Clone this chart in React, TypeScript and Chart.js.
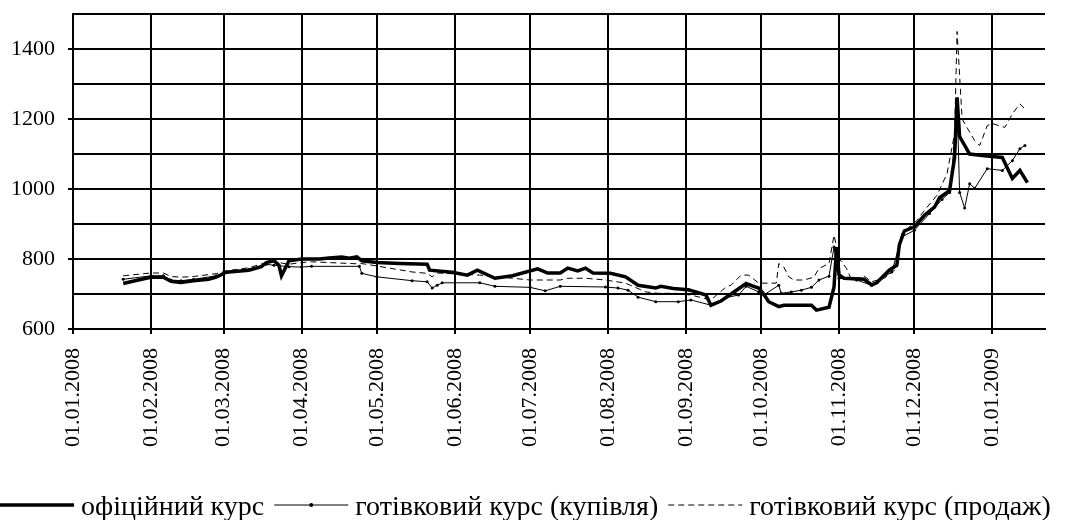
import { useEffect, useRef } from 'react';
import { Chart, registerables } from 'chart.js';

Chart.register(...registerables);

// ---- data ----
const monthTicks = [
  '01.01.2008', '01.02.2008', '01.03.2008', '01.04.2008', '01.05.2008', '01.06.2008',
  '01.07.2008', '01.08.2008', '01.09.2008', '01.10.2008', '01.11.2008', '01.12.2008', '01.01.2009',
];
const axisEnd = '22.01.2009';

const officialDates = [
  '21.01.2008', '27.01.2008', '01.02.2008', '06.02.2008', '09.02.2008', '13.02.2008', '18.02.2008', '24.02.2008', '27.02.2008',
  '02.03.2008', '11.03.2008', '16.03.2008', '18.03.2008', '21.03.2008', '23.03.2008', '24.03.2008', '27.03.2008',
  '01.04.2008', '08.04.2008', '12.04.2008', '17.04.2008', '20.04.2008', '23.04.2008', '25.04.2008',
  '01.05.2008', '10.05.2008', '21.05.2008', '22.05.2008', '31.05.2008',
  '06.06.2008', '10.06.2008', '17.06.2008', '24.06.2008',
  '04.07.2008', '08.07.2008', '13.07.2008', '16.07.2008', '20.07.2008', '23.07.2008', '26.07.2008',
  '02.08.2008', '08.08.2008', '13.08.2008', '20.08.2008', '22.08.2008', '27.08.2008',
  '02.09.2008', '06.09.2008', '09.09.2008', '11.09.2008', '15.09.2008', '19.09.2008', '25.09.2008', '28.09.2008', '30.09.2008',
  '02.10.2008', '04.10.2008', '08.10.2008', '10.10.2008', '21.10.2008', '23.10.2008', '28.10.2008', '30.10.2008', '31.10.2008',
  '01.11.2008', '03.11.2008', '11.11.2008', '14.11.2008', '16.11.2008', '21.11.2008', '24.11.2008', '25.11.2008', '27.11.2008',
  '01.12.2008', '05.12.2008', '09.12.2008', '11.12.2008', '15.12.2008', '17.12.2008', '18.12.2008', '19.12.2008', '23.12.2008', '29.12.2008',
  '05.01.2009', '09.01.2009', '12.01.2009', '15.01.2009',
];
const officialValues = [
  730, 740, 748, 748, 736, 733, 738, 742, 748,
  762, 768, 778, 790, 795, 782, 752, 795,
  800, 800, 803, 806, 802, 806, 795,
  790, 787, 785, 768, 762,
  754, 768, 745, 752,
  772, 760, 760, 774, 766, 774, 760,
  759, 749, 725, 717, 722, 716,
  712, 704, 697, 668, 680, 700, 730, 722, 717,
  700, 678, 664, 668, 668, 654, 662, 720, 834,
  754, 745, 742, 726, 732, 768, 782, 840, 880,
  892, 925, 948, 975, 995, 1090, 1262, 1150, 1100, 1095,
  1090, 1030, 1053, 1018,
];

const buyDates = [
  '21.01.2008', '01.02.2008', '06.02.2008', '09.02.2008', '13.02.2008', '18.02.2008', '27.02.2008',
  '02.03.2008', '11.03.2008', '18.03.2008', '21.03.2008', '27.03.2008',
  '01.04.2008', '05.04.2008', '24.04.2008', '25.04.2008',
  '01.05.2008', '15.05.2008', '21.05.2008', '23.05.2008', '25.05.2008', '27.05.2008',
  '11.06.2008', '17.06.2008', '01.07.2008', '07.07.2008', '13.07.2008', '31.07.2008',
  '05.08.2008', '09.08.2008', '13.08.2008', '20.08.2008', '29.08.2008',
  '03.09.2008', '11.09.2008', '17.09.2008', '22.09.2008', '25.09.2008', '30.09.2008',
  '02.10.2008', '08.10.2008', '09.10.2008', '13.10.2008', '17.10.2008', '21.10.2008', '24.10.2008', '28.10.2008', '30.10.2008', '31.10.2008',
  '01.11.2008', '08.11.2008', '14.11.2008', '22.11.2008', '26.11.2008',
  '01.12.2008', '07.12.2008', '12.12.2008', '15.12.2008', '16.12.2008', '18.12.2008', '19.12.2008', '21.12.2008', '23.12.2008', '25.12.2008', '30.12.2008',
  '05.01.2009', '09.01.2009', '12.01.2009', '14.01.2009',
];
const buyValues = [
  742, 752, 752, 740, 738, 742, 752,
  762, 770, 785, 782, 778,
  777, 779, 779, 759,
  749, 738, 735, 717, 725, 732,
  732, 722, 719, 709, 722, 720,
  717, 711, 691, 678, 678,
  683, 668, 690, 697, 722, 706,
  697, 725, 702, 706, 711, 719, 740, 751, 834, 787,
  745, 740, 725, 763, 863,
  882, 930, 970, 990, 1050, 1250, 990, 946, 1015, 1002, 1058,
  1053, 1081, 1115, 1124,
];

const sellDates = [
  '21.01.2008', '01.02.2008', '06.02.2008', '09.02.2008', '13.02.2008', '18.02.2008', '27.02.2008',
  '02.03.2008', '11.03.2008', '18.03.2008', '21.03.2008', '27.03.2008',
  '01.04.2008', '05.04.2008', '24.04.2008', '25.04.2008',
  '01.05.2008', '15.05.2008', '21.05.2008', '23.05.2008', '25.05.2008',
  '11.06.2008', '24.06.2008', '01.07.2008', '13.07.2008', '16.07.2008', '23.07.2008', '31.07.2008',
  '08.08.2008', '16.08.2008', '21.08.2008', '28.08.2008',
  '03.09.2008', '11.09.2008', '17.09.2008', '19.09.2008', '23.09.2008', '26.09.2008', '30.09.2008',
  '07.10.2008', '08.10.2008', '10.10.2008', '12.10.2008', '14.10.2008', '18.10.2008', '22.10.2008', '24.10.2008', '28.10.2008', '30.10.2008',
  '01.11.2008', '04.11.2008', '06.11.2008', '11.11.2008', '14.11.2008', '19.11.2008', '24.11.2008', '26.11.2008',
  '02.12.2008', '05.12.2008', '10.12.2008', '14.12.2008', '17.12.2008', '18.12.2008', '20.12.2008', '25.12.2008', '27.12.2008', '30.12.2008',
  '01.01.2009', '06.01.2009', '09.01.2009', '12.01.2009', '14.01.2009',
];
const sellValues = [
  752, 760, 760, 750, 748, 750, 758,
  766, 775, 790, 792, 785,
  790, 792, 786, 787,
  780, 763, 759, 749, 760,
  754, 745, 740, 740, 745, 745, 740,
  731, 706, 702, 702,
  697, 683, 720, 725, 754, 754, 731,
  731, 787, 777, 749, 740, 740, 748, 773, 787, 868,
  802, 773, 740, 751, 735, 745, 773, 873,
  910, 939, 982, 1044, 1158, 1450, 1200, 1138, 1124, 1181,
  1187, 1176, 1215, 1243, 1229,
];

const seriesLabels = [
  'офіційний курс',
  'готівковий курс (купівля)',
  'готівковий курс (продаж)',
];

// ---- helpers ----
const BASE = Date.UTC(2008, 0, 1);
function toDay(s: string): number {
  const [d, m, y] = s.split('.').map(Number);
  return Math.round((Date.UTC(y, m - 1, d) - BASE) / 86400000);
}
function toPoints(dates: string[], values: number[]) {
  return dates.map((d, i) => ({ x: toDay(d), y: values[i] }));
}

const FONT = '"Liberation Serif", "Times New Roman", serif';

const legendPlugin = {
  id: 'bottomLegend',
  afterDraw(chart: any) {
    const ctx = chart.ctx as CanvasRenderingContext2D;
    const lineY = 505;
    const textY = 515;
    const sample = 74;
    ctx.save();
    ctx.font = `28px ${FONT}`;
    ctx.textBaseline = 'alphabetic';
    ctx.textAlign = 'left';
    ctx.fillStyle = '#000';
    let x = 0;
    chart.data.datasets.forEach((ds: any) => {
      ctx.save();
      ctx.strokeStyle = '#000';
      ctx.lineWidth = ds.borderWidth;
      ctx.setLineDash(ds.borderDash || []);
      ctx.beginPath();
      ctx.moveTo(x, lineY);
      ctx.lineTo(x + sample, lineY);
      ctx.stroke();
      if (ds.pointRadius > 0) {
        ctx.setLineDash([]);
        ctx.beginPath();
        ctx.arc(x + sample / 2, lineY, ds.pointRadius + 0.5, 0, Math.PI * 2);
        ctx.fill();
      }
      ctx.restore();
      x += sample + 7;
      ctx.fillText(ds.label, x, textY);
      x += ctx.measureText(ds.label).width + 10;
    });
    ctx.restore();
  },
};

export default function App() {
  const ref = useRef<HTMLCanvasElement | null>(null);

  useEffect(() => {
    if (!ref.current) return;
    const monthDays = monthTicks.map(toDay);
    const labelByDay = new Map<number, string>();
    monthTicks.forEach((t) => labelByDay.set(toDay(t), t));

    const noVPad = (scale: any) => {
      scale.paddingTop = 0;
      scale.paddingBottom = 0;
    };

    const chart = new Chart(ref.current, {
      type: 'line',
      data: {
        datasets: [
          {
            label: seriesLabels[0],
            data: toPoints(officialDates, officialValues),
            borderColor: '#000',
            backgroundColor: '#000',
            borderWidth: 3.5,
            pointRadius: 0,
            tension: 0,
          },
          {
            label: seriesLabels[1],
            data: toPoints(buyDates, buyValues),
            borderColor: '#000',
            backgroundColor: '#000',
            borderWidth: 1,
            pointRadius: 1.5,
            pointBorderWidth: 0,
            pointBackgroundColor: '#000',
            tension: 0,
          },
          {
            label: seriesLabels[2],
            data: toPoints(sellDates, sellValues),
            borderColor: '#000',
            backgroundColor: '#000',
            borderWidth: 1,
            borderDash: [6, 4],
            pointRadius: 0,
            tension: 0,
          },
        ],
      },
      options: {
        responsive: false,
        animation: false,
        parsing: true,
        layout: { padding: { top: 14, left: 0, right: 0, bottom: 0 } },
        plugins: {
          legend: { display: false },
          tooltip: { enabled: false },
        },
        scales: {
          x: {
            type: 'linear',
            min: 0,
            max: toDay(axisEnd),
            afterBuildTicks: (scale: any) => {
              scale.ticks = monthDays.map((v) => ({ value: v }));
            },
            afterFit: (scale: any) => {
              scale.height = 191;
            },
            grid: { color: '#000', lineWidth: 2, tickLength: 5, tickColor: '#000', tickWidth: 2 },
            border: { color: '#000', width: 2 },
            ticks: {
              autoSkip: false,
              maxRotation: 90,
              minRotation: 90,
              padding: 14,
              color: '#000',
              font: { family: FONT, size: 22 },
              callback: (v: any) => labelByDay.get(Number(v)) ?? '',
            },
          },
          y: {
            type: 'linear',
            min: 600,
            max: 1500,
            afterFit: (scale: any) => {
              scale.width = 73;
              noVPad(scale);
            },
            grid: {
              color: '#000',
              lineWidth: 2,
              tickLength: 5,
              tickWidth: 2,
              tickColor: (c: any) => (c.tick && c.tick.value % 200 === 0 ? '#000' : 'rgba(0,0,0,0)'),
            },
            border: { color: '#000', width: 2 },
            ticks: {
              stepSize: 100,
              padding: 13,
              color: '#000',
              font: { family: FONT, size: 22 },
              callback: (v: any) => (Number(v) % 200 === 0 ? String(v) : ''),
            },
          },
          yRight: {
            type: 'linear',
            position: 'right',
            display: true,
            grid: { display: false },
            border: { display: false },
            ticks: { display: false },
            afterFit: (scale: any) => {
              scale.width = 25;
              noVPad(scale);
            },
          },
        },
      },
      plugins: [legendPlugin],
    } as any);

    return () => chart.destroy();
  }, []);

  return (
    <div style={{ position: 'absolute', left: 0, top: 0, width: 1070, height: 520, background: '#fff' }}>
      <canvas ref={ref} width={1070} height={520} />
    </div>
  );
}
